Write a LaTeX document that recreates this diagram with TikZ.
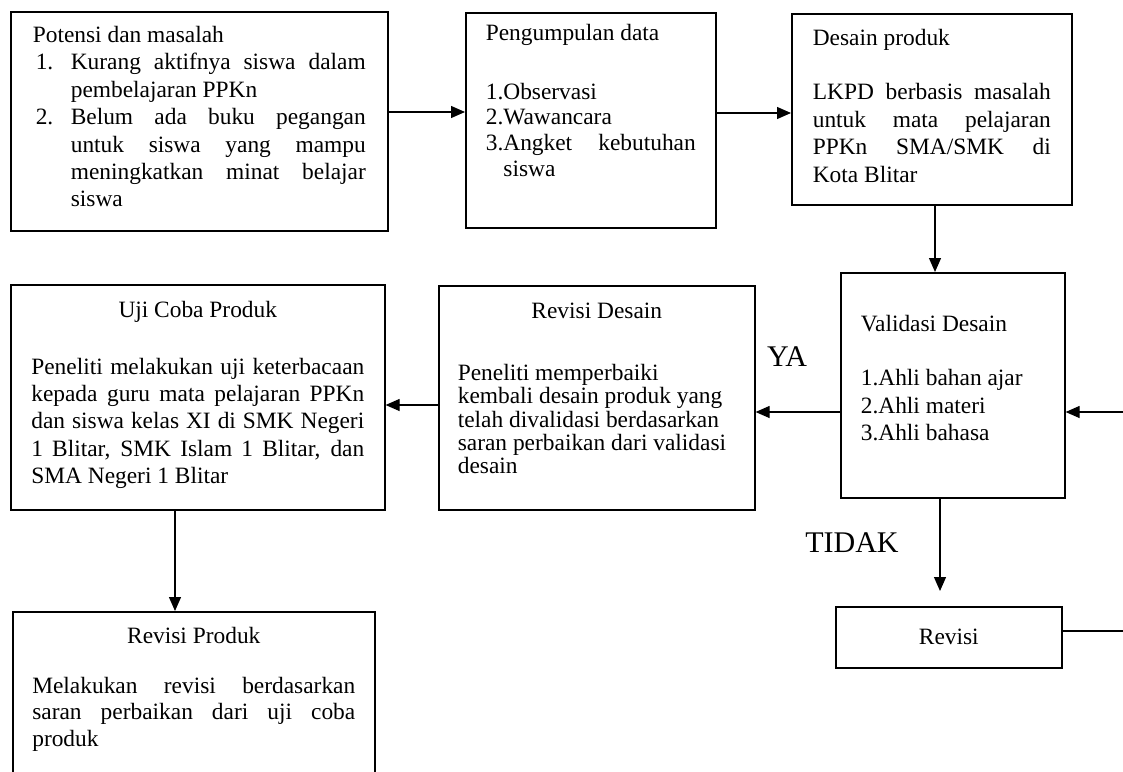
\documentclass[tikz,border=0pt]{standalone}
\usepackage{fontspec}
\setmainfont{Liberation Serif}
\usetikzlibrary{arrows.meta}
\hyphenpenalty=10000
\tolerance=10000
\newcommand{\butir}[1]{\par\hangindent=19pt\hangafter=1\makebox[19pt][l]{\hspace{1.5pt}#1}}

\begin{document}
\begin{tikzpicture}[x=0.5pt,y=-0.5pt,
  kotak/.style={draw, line width=0.8pt, inner sep=0pt, anchor=north west, font=\fontsize{11.7}{13.7}\selectfont},
  panah/.style={-{Triangle[length=7pt,width=6pt]}, line width=0.6pt},
  garis/.style={line width=0.6pt},
  tanda/.style={font=\fontsize{15}{18}\selectfont}]
\useasboundingbox (0,0) rectangle (1123,771);
\clip (0,0) rectangle (1123,771);

\node[kotak,minimum width=188.5pt,minimum height=109.5pt] (potensi) at (10,11) {\parbox[c][95pt][t]{166.5pt}{Potensi dan masalah
\butir{1.}Kurang aktifnya siswa dalam pembelajaran PPKn
\butir{2.}Belum ada buku pegangan untuk siswa yang mampu meningkatkan minat belajar siswa}};
\node[kotak,minimum width=125pt,minimum height=107.5pt] (pengumpulan) at (465,12) {\parbox[c][96.5pt][t]{105pt}{\fontsize{11.7}{12.8}\selectfont Pengumpulan data\par\vspace{16.8pt}
1.Observasi\par 2.Wawancara\par
\hangindent=8.8pt\hangafter=1 3.Angket kebutuhan siswa}};
\node[kotak,minimum width=140pt,minimum height=95.5pt] (desain) at (791,13) {\parbox[c][80.5pt][t]{119pt}{Desain produk\par\vspace{13.7pt}
LKPD berbasis masalah untuk mata pelajaran PPKn SMA/SMK di\linebreak Kota Blitar}};
\node[kotak,minimum width=112pt,minimum height=112.5pt] (validasi) at (840,272) {\parbox[c][70.5pt][t]{92pt}{\raggedright Validasi Desain\par\vspace{13.7pt}
1.Ahli bahan ajar\\ 2.Ahli materi\\ 3.Ahli bahasa}};
\node[kotak,minimum width=158pt,minimum height=112pt] (revdesain) at (438,285) {\parbox[c][95pt][t]{139pt}{\fontsize{11.7}{11.7}\selectfont\centering Revisi Desain\par\vspace{19.3pt}\raggedright
Peneliti memperbaiki\\ kembali desain produk yang\\ telah divalidasi berdasarkan\\ saran perbaikan dari validasi\\ desain}};
\node[kotak,minimum width=187pt,minimum height=112.5pt] (ujicoba) at (10,284) {\parbox[c][96.5pt][t]{166.5pt}{{\centering Uji Coba Produk\par}\vspace{14.8pt}
Peneliti melakukan uji keterbacaan\linebreak kepada guru mata pelajaran PPKn\linebreak dan siswa kelas XI di SMK Negeri\linebreak 1 Blitar, SMK Islam 1 Blitar, dan\linebreak SMA Negeri 1 Blitar}};
\node[kotak,minimum width=181pt,minimum height=100pt] (revproduk) at (12,611) {\parbox[c][85pt][t]{161.5pt}{\fontsize{11.7}{13.3}\selectfont{\centering Revisi Produk\par}\vspace{11.7pt}
Melakukan revisi berdasarkan saran perbaikan dari uji coba produk}};
\node[kotak,minimum width=113pt,minimum height=30.5pt] (revisi) at (835,606) {Revisi};

\node[tanda] (ya) at (787,357) {YA};
\node[tanda] (tidak) at (852,543) {TIDAK};

\draw[panah] (potensi.east |- 0,112) -- (pengumpulan.west |- 0,112);
\draw[panah] (pengumpulan.east |- 0,113) -- (desain.west |- 0,113);
\draw[panah] (desain.south -| 935,0) -- (validasi.north -| 935,0);
\coordinate (masuk) at (1123,412);
\draw[panah] (masuk) -- (validasi.east |- masuk);
\draw[panah] (validasi.west |- masuk) -- (revdesain.east |- masuk);
\draw[panah] (revdesain.west |- 0,405) -- (ujicoba.east |- 0,405);
\draw[panah] (ujicoba.south -| 175,0) -- (revproduk.north -| 175,0);
\draw[panah,shorten >=7.5pt] (validasi.south -| 940,0) -- (revisi.north -| 940,0);
\coordinate (keluar) at (1123,631);
\draw[garis] (revisi.east |- keluar) -- (keluar);
\end{tikzpicture}
\end{document}
